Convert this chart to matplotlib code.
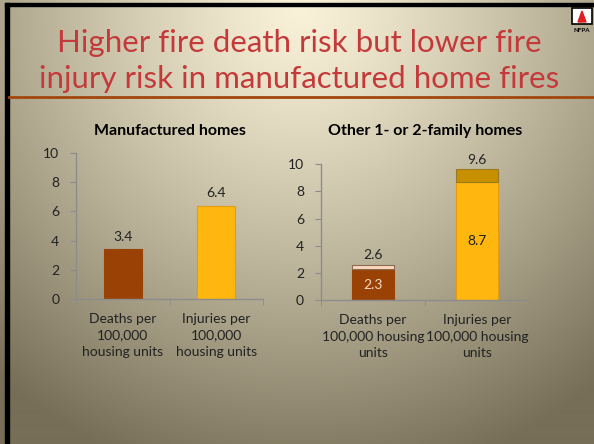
import numpy as np
import matplotlib
matplotlib.use("Agg")
import matplotlib.pyplot as plt
from matplotlib.patches import Rectangle, Polygon

plt.rcParams['font.family'] = ['Lato', 'DejaVu Sans']

# ---- data ----
title_lines = ["Higher fire death risk but lower fire", "injury risk in manufactured home fires"]
left_title = "Manufactured homes"
left_categories = ["Deaths per\n100,000\nhousing units", "Injuries per\n100,000\nhousing units"]
left_values = [3.4, 6.4]

right_title = "Other 1- or 2-family homes"
right_categories = ["Deaths per\n100,000 housing\nunits", "Injuries per\n100,000 housing\nunits"]
right_base = [2.3, 8.7]
right_total = [2.6, 9.6]

yticks = [0, 2, 4, 6, 8, 10]

W, H = 594, 444
fig = plt.figure(figsize=(W / 100, H / 100), dpi=100)

# ---- background gradient ----
bg = fig.add_axes([0, 0, 1, 1])
yy, xx = np.mgrid[0:H, 0:W]
d = np.sqrt(((xx - 300) / 470.0) ** 2 + ((yy - 10) / 480.0) ** 2)
d = np.clip(d, 0, 1)
c0 = np.array([250, 242, 216]) / 255.0
c1 = np.array([118, 110, 86]) / 255.0
t = d[..., None] ** 1.2
img = c0 * (1 - t) + c1 * t
bg.imshow(img, extent=[0, W, H, 0], aspect='auto', interpolation='bilinear')
bg.set_xlim(0, W)
bg.set_ylim(H, 0)
bg.axis('off')
# black borders
bg.add_patch(Rectangle((5, 3), 4, H, color='black'))
bg.add_patch(Rectangle((5, 3), W, 3.5, color='black'))
# separator line
bg.plot([9, W], [97, 97], color='#a3460c', lw=2)
# logo
bg.add_patch(Rectangle((572, 8), 20, 16, facecolor='white', edgecolor='black', lw=1.2))
bg.add_patch(Polygon([[578, 22], [582, 11], [586, 22]], closed=True, color='#e02020'))
bg.text(582, 30, "NFPA", fontsize=4.5, fontweight='bold', ha='center', va='center', color='black')

for i, line in enumerate(title_lines):
    bg.text(299, 43 + 36 * i, line, fontsize=22.5, color='#c43a3a', ha='center', va='center')

dark = '#9a4205'
gold = '#ffb70f'
gold_edge = '#e39b12'
spine_c = '#8c8c8c'
txt = '#222222'


def style_axes(ax):
    ax.set_facecolor('none')
    ax.set_ylim(0, 10)
    ax.set_xlim(-0.5, 1.5)
    ax.set_yticks(yticks)
    ax.set_yticklabels([str(v) for v in yticks], fontsize=10, color=txt)
    for s in ['top', 'right']:
        ax.spines[s].set_visible(False)
    for s in ['left', 'bottom']:
        ax.spines[s].set_color(spine_c)
        ax.spines[s].set_linewidth(1.0)
    ax.tick_params(axis='y', length=4, color=spine_c, pad=8)
    ax.set_xticks([0, 1])
    ax.tick_params(axis='x', length=0, pad=10)
    ax.set_xticks([-0.5, 0.5, 1.5], minor=True)
    ax.tick_params(axis='x', which='minor', length=4, color=spine_c)


# ---- left chart ----
axl = fig.add_axes([76 / W, 1 - 298.7 / H, (263 - 76) / W, (298.7 - 153.3) / H])
style_axes(axl)
axl.bar([0], [left_values[0]], width=0.41, color=dark, edgecolor=dark, lw=0.8)
axl.bar([1], [left_values[1]], width=0.41, color=gold, edgecolor=gold_edge, lw=0.8)
for i, v in enumerate(left_values):
    axl.text(i, v + 0.45, f"{v}", ha='center', va='bottom', fontsize=10, color=txt)
axl.set_xticklabels(left_categories, fontsize=10, color=txt, linespacing=1.45)
axl.set_title(left_title, fontsize=11.5, fontweight='bold', color='black', pad=13)

# ---- right chart ----
axr = fig.add_axes([320.7 / W, 1 - 300.3 / H, (529 - 320.7) / W, (300.3 - 164) / H])
style_axes(axr)
tops = [right_total[i] - right_base[i] for i in range(2)]
axr.bar([0], [right_base[0]], width=0.4, color=dark, edgecolor=dark, lw=0.8)
axr.bar([0], [tops[0]], bottom=[right_base[0]], width=0.4, color='#fcd8bc', edgecolor='#8a6a50', lw=0.8)
axr.bar([1], [right_base[1]], width=0.4, color=gold, edgecolor=gold_edge, lw=0.8)
axr.bar([1], [tops[1]], bottom=[right_base[1]], width=0.4, color='#c88f00', edgecolor='#9a7a20', lw=0.8)
for i in range(2):
    axr.text(i, right_total[i] + 0.25, f"{right_total[i]}", ha='center', va='bottom',
             fontsize=10, color=txt)
axr.text(0, right_base[0] / 2, f"{right_base[0]}", ha='center', va='center', fontsize=10, color='#f6d6c0')
axr.text(1, right_base[1] / 2, f"{right_base[1]}", ha='center', va='center', fontsize=10, color=txt)
axr.set_xticklabels(right_categories, fontsize=10, color=txt, linespacing=1.45)
axr.set_title(right_title, fontsize=11.5, fontweight='bold', color='black', pad=21)

fig.savefig("out.png", dpi=100)
